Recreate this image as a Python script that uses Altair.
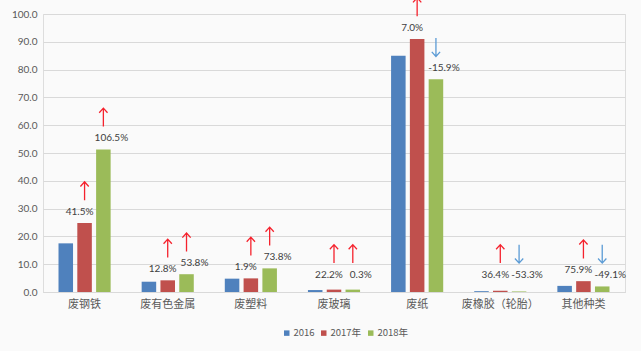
import altair as alt
import pandas as pd

categories = ["废钢铁", "废有色金属", "废塑料", "废玻璃", "废纸", "废橡胶（轮胎）", "其他种类"]
years = ["2016", "2017年", "2018年"]
v2016 = [17.5, 3.7, 4.8, 0.7, 85.0, 0.3, 2.2]
v2017 = [24.8, 4.2, 4.9, 0.86, 91.0, 0.45, 3.9]
v2018 = [51.3, 6.4, 8.5, 0.86, 76.5, 0.2, 2.0]
g2017 = [41.5, 12.8, 1.9, 22.2, 7.0, 36.4, 75.9]
g2018 = [106.5, 53.8, 73.8, 0.3, -15.9, -53.3, -49.1]
y_ticks = [0, 10, 20, 30, 40, 50, 60, 70, 80, 90, 100]

rows = []
for i, c in enumerate(categories):
    rows.append({"cat": c, "year": years[0], "v": v2016[i], "g": None})
    rows.append({"cat": c, "year": years[1], "v": v2017[i], "g": g2017[i]})
    rows.append({"cat": c, "year": years[2], "v": v2018[i], "g": g2018[i]})
df = pd.DataFrame(rows)
df["label"] = df["g"].map(lambda g: "" if pd.isna(g) else f"{g:.1f}%")

FONT = "Noto Sans CJK SC"
NUMFONT = "Lato"
colors = ["#4F81BD", "#C0504D", "#9BBB59"]

x_enc = alt.X("cat:N", sort=categories, title=None,
              scale=alt.Scale(paddingInner=0.373, paddingOuter=0.1865),
              axis=alt.Axis(labelAngle=0, labelFontSize=11, labelColor="#595959",
                            labelFont=FONT, ticks=False, domainColor="#d9d9d9",
                            labelPadding=6))
xo_enc = alt.XOffset("year:N", sort=years,
                     scale=alt.Scale(paddingInner=0.227, paddingOuter=0))
y_axis = alt.Axis(values=y_ticks, format=".1f", labelFontSize=10,
                  labelColor="#595959", labelFont=NUMFONT,
                  domain=False, ticks=False, labelPadding=6,
                  gridColor="#d9d9d9")
y_enc = alt.Y("v:Q", title=None, scale=alt.Scale(domain=[0, 100], nice=False), axis=y_axis)
ly_enc = alt.Y("ly:Q", title=None, scale=alt.Scale(domain=[0, 100], nice=False), axis=y_axis)

base = alt.Chart(df)

bars = base.mark_bar().encode(
    x=x_enc, xOffset=xo_enc, y=y_enc,
    color=alt.Color("year:N", sort=years,
                    scale=alt.Scale(domain=years, range=colors),
                    legend=alt.Legend(title=None, orient="none", direction="horizontal",
                                      legendX=239, legendY=314, symbolType="square",
                                      symbolSize=30, labelFontSize=9.5, labelFont=FONT,
                                      labelColor="#595959", columnPadding=4,
                                      labelOffset=2, symbolStrokeWidth=0)),
)

lbase = base.transform_filter("datum.g != null").transform_calculate(
    ly="max(datum.v, 2.2)"
)

lab17 = lbase.transform_filter(alt.datum.year == years[1]).mark_text(
    baseline="middle", dy=-11, dx=-5, fontSize=10, font=NUMFONT, color="#404040"
).encode(x=x_enc, xOffset=xo_enc, y=ly_enc, text="label:N")

lab18 = lbase.transform_filter(alt.datum.year == years[2]).mark_text(
    baseline="middle", dy=-11, dx=8, fontSize=10, font=NUMFONT, color="#404040"
).encode(x=x_enc, xOffset=xo_enc, y=ly_enc, text="label:N")

up_path = "M0,1 L0,-1 M-0.45,-0.5 L0,-1 L0.45,-0.5"
down_path = "M0,-1 L0,1 M-0.45,0.5 L0,1 L0.45,0.5"

up = lbase.transform_filter("datum.g >= 0").mark_point(
    shape=up_path, size=340, filled=False, strokeWidth=1.3, color="#F5222D",
    yOffset=-32, opacity=1
).encode(x=x_enc, xOffset=xo_enc, y=ly_enc)

down = lbase.transform_filter("datum.g < 0").mark_point(
    shape=down_path, size=340, filled=False, strokeWidth=1.3, color="#5B9BD5",
    yOffset=-32, opacity=1
).encode(x=x_enc, xOffset=xo_enc, y=ly_enc)

chart = alt.layer(bars, lab17, lab18, up, down).properties(
    width=582, height=278,
    autosize=alt.AutoSizeParams(type="none"),
    padding={"left": 43, "top": 14, "right": 16, "bottom": 59},
    background="#fafafa",
).configure_view(stroke=None).configure(font=FONT)

chart.save("out.html", embed_options={"renderer": "svg", "actions": False})
